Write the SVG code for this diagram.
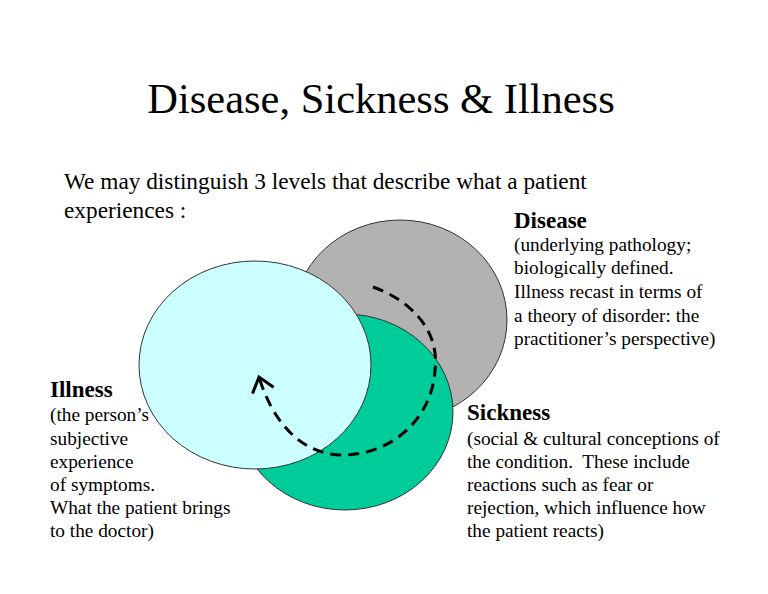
<svg xmlns="http://www.w3.org/2000/svg" width="768" height="594" viewBox="0 0 768 594">
<style>
.t{font-family:"Liberation Serif","Times New Roman",serif;fill:#000;white-space:pre}
.h{font-weight:bold;font-size:23px}
.b{font-size:19.3px}
.e{stroke:#333;stroke-width:1}
</style>
<defs>
<marker id="chev" markerWidth="26" markerHeight="26" refX="20" refY="12" orient="auto" markerUnits="userSpaceOnUse">
<path d="M6 1 L20 12 L6 23" fill="none" stroke="#000" stroke-width="3"/>
</marker>
</defs>
<rect width="768" height="594" fill="#fff"/>
<text class="t" x="381" y="113" font-size="42.5" text-anchor="middle">Disease, Sickness &amp; Illness</text>
<text class="t" x="64" y="189" font-size="23.3">We may distinguish 3 levels that describe what a patient</text>
<text class="t" x="64" y="218" font-size="23.3">experiences :</text>
<g id="disease">
<ellipse class="e" cx="400" cy="320" rx="107" ry="100" fill="#b2b2b2"/>
<text class="t h" x="514" y="228">Disease</text>
<text class="t b" x="514" y="251">(underlying pathology;</text>
<text class="t b" x="514" y="274">biologically defined.</text>
<text class="t b" x="514" y="298">Illness recast in terms of</text>
<text class="t b" x="514" y="322">a theory of disorder: the</text>
<text class="t b" x="514" y="345">practitioner’s perspective)</text>
</g>
<g id="sickness">
<ellipse class="e" cx="345" cy="412" rx="108" ry="98" fill="#00cc99"/>
<text class="t h" x="467" y="420">Sickness</text>
<text class="t b" x="467" y="445">(social &amp; cultural conceptions of</text>
<text class="t b" x="467" y="468" xml:space="preserve">the condition.  These include</text>
<text class="t b" x="467" y="491">reactions such as fear or</text>
<text class="t b" x="467" y="514">rejection, which influence how</text>
<text class="t b" x="467" y="537">the patient reacts)</text>
</g>
<g id="illness">
<ellipse class="e" cx="255" cy="365" rx="116" ry="104" fill="#ccffff"/>
<text class="t h" x="50" y="397">Illness</text>
<text class="t b" x="50" y="421">(the person’s</text>
<text class="t b" x="50" y="445">subjective</text>
<text class="t b" x="50" y="468">experience</text>
<text class="t b" x="50" y="491">of symptoms.</text>
<text class="t b" x="50" y="514">What the patient brings</text>
<text class="t b" x="50" y="537">to the doctor)</text>
</g>
<g id="connectors">
<path d="M373 287 C410 300 440 330 435 370 C432 420 390 455 343 455 C300 455 272 420 259 377" fill="none" stroke="#000" stroke-width="3" stroke-dasharray="11 7" marker-end="url(#chev)"/>
</g>
</svg>
